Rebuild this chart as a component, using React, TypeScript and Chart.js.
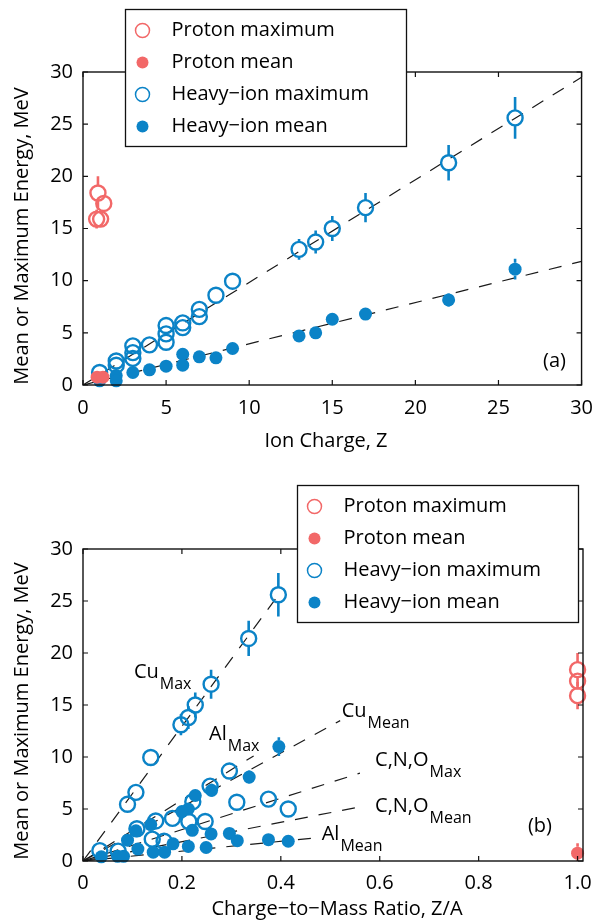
import React, { useEffect, useRef } from 'react';
import { Chart, registerables } from 'chart.js';

Chart.register(...registerables);

const FONT = "'Open Sans', sans-serif";
const BLUE = '#0b83c7';
const RED = '#f26868';
const INK = '#111111';

// ---------- Panel (a): energy vs ion charge Z ----------
// rows: [Z, energy (MeV), error (MeV)]
const zTicks = [0, 5, 10, 15, 20, 25, 30];
const energyTicks = [0, 5, 10, 15, 20, 25, 30];
const zProtonMax = [[0.9, 18.4, 1.6], [1.25, 17.4, 0], [0.82, 15.9, 0.9], [1.06, 15.9, 0]];
const zProtonMean = [[0.85, 0.75, 0], [1.2, 0.75, 0]];
const zHeavyMax = [
  [1, 1.2, 0], [2, 2.3, 0], [2, 1.9, 0], [3, 3.75, 0], [3, 3.1, 0], [3, 2.55, 0], [4, 3.85, 0],
  [5, 5.7, 0], [5, 4.9, 0], [5, 4.1, 0], [6, 5.95, 0], [6, 5.5, 0], [7, 7.25, 0], [7, 6.55, 0],
  [8, 8.6, 0], [9, 9.95, 0], [13, 13.0, 1.0], [14, 13.7, 1.1], [15, 15.0, 1.2], [17, 17.0, 1.4],
  [22, 21.3, 1.7], [26, 25.6, 2.0],
];
const zHeavyMean = [
  [1, 0.4, 0], [2, 0.9, 0], [2, 0.4, 0], [3, 1.2, 0], [4, 1.45, 0], [5, 1.8, 0], [6, 2.95, 0],
  [6, 1.9, 0], [7, 2.7, 0], [8, 2.6, 0], [9, 3.5, 0], [13, 4.7, 0], [14, 5.0, 0], [15, 6.3, 0],
  [17, 6.8, 0], [22, 8.15, 0.5], [26, 11.1, 1.0],
];
const zFitMax = [[0, 0], [30, 29.5]];
const zFitMean = [[0, 0], [30, 11.85]];

// ---------- Panel (b): energy vs charge-to-mass ratio Z/A ----------
const ratioTicks = [0, 0.2, 0.4, 0.6, 0.8, 1];
const rProtonMax = [[1, 18.4, 1.6], [1, 17.3, 0], [1, 15.9, 1.3]];
const rProtonMean = [[1, 0.75, 0.95]];
const rHeavyMax = [
  [0.395, 25.6, 2.1], [0.335, 21.4, 1.7], [0.259, 17.0, 1.4], [0.227, 15.0, 1.2], [0.213, 13.8, 1.1],
  [0.198, 13.1, 1.0], [0.137, 9.95, 0], [0.107, 6.6, 0], [0.09, 5.45, 0], [0.296, 8.65, 0],
  [0.257, 7.2, 0], [0.222, 5.7, 0], [0.311, 5.65, 0], [0.375, 5.95, 0], [0.415, 5.0, 0],
  [0.247, 3.8, 0], [0.214, 3.8, 0], [0.181, 4.1, 0], [0.147, 3.85, 0], [0.109, 3.1, 0],
  [0.14, 2.1, 0], [0.164, 1.9, 0], [0.034, 1.0, 0], [0.071, 0.95, 0],
];
const rHeavyMean = [
  [0.396, 11.0, 0.9], [0.336, 8.07, 0.5], [0.26, 6.8, 0.3], [0.227, 6.3, 0], [0.213, 5.0, 0],
  [0.2, 4.75, 0], [0.137, 3.5, 0], [0.107, 2.9, 0], [0.09, 2.0, 0], [0.221, 2.95, 0],
  [0.259, 2.6, 0], [0.296, 2.65, 0], [0.312, 1.95, 0], [0.375, 2.05, 0], [0.415, 1.9, 0],
  [0.249, 1.3, 0], [0.213, 1.4, 0], [0.182, 1.65, 0], [0.111, 1.15, 0], [0.142, 0.85, 0],
  [0.165, 0.85, 0], [0.037, 0.4, 0], [0.07, 0.45, 0], [0.082, 0.45, 0],
];
const fitCuMax = [[0, 0], [0.4, 25.9]];
const fitAlMax = [[0, 0], [0.345, 10.1]];
const fitCuMean = [[0, 0], [0.52, 13.5]];
const fitCNOMax = [[0, 0], [0.56, 8.45]];
const fitCNOMean = [[0, 0], [0.567, 5.27]];
const fitAlMean = [[0, 0], [0.465, 2.2]];
const fitLabels = [
  { main: 'Cu', sub: 'Max', x: 0.103, y: 17.57 },
  { main: 'Al', sub: 'Max', x: 0.2549, y: 11.6 },
  { main: 'Cu', sub: 'Mean', x: 0.523, y: 13.85 },
  { main: 'C,N,O', sub: 'Max', x: 0.5905, y: 9.1 },
  { main: 'C,N,O', sub: 'Mean', x: 0.5905, y: 4.68 },
  { main: 'Al', sub: 'Mean', x: 0.4827, y: 2.04 },
];

const legendItems = [
  { text: 'Proton maximum', color: RED, filled: false },
  { text: 'Proton mean', color: RED, filled: true },
  { text: 'Heavy\u2212ion maximum', color: BLUE, filled: false },
  { text: 'Heavy\u2212ion mean', color: BLUE, filled: true },
];

const Y_TITLE = 'Mean or Maximum Energy, MeV';

const toPts = (rows: number[][]) => rows.map((r) => ({ x: r[0], y: r[1] }));

const openSet = (label: string, rows: number[][], color: string) => ({
  type: 'scatter', label, data: toPts(rows), showLine: false, clip: false,
  pointStyle: 'circle', pointRadius: 7.5, pointBorderWidth: 2.4,
  pointBackgroundColor: 'rgba(0,0,0,0)', pointBorderColor: color,
  backgroundColor: 'rgba(0,0,0,0)', borderColor: color,
});
const filledSet = (label: string, rows: number[][], color: string) => ({
  type: 'scatter', label, data: toPts(rows), showLine: false, clip: false,
  pointStyle: 'circle', pointRadius: 6.5, pointBorderWidth: 0,
  pointBackgroundColor: color, pointBorderColor: color,
  backgroundColor: color, borderColor: color,
});
const fitSet = (label: string, rows: number[][]) => ({
  type: 'line', label, data: toPts(rows), borderColor: '#1a1a1a', borderWidth: 1.2,
  borderDash: [13, 11], pointRadius: 0, fill: false, tension: 0,
});

interface Spec {
  height: number; padTop: number; plotBottom: number; xMax: number;
  xTicks: number[]; yTicks: number[]; xLabelPad: number;
  datasets: any[];
  errors: { rows: number[][]; color: string; r: number }[];
  legend: { left: number; top: number };
  xTitle: { text: string; x: number; y: number };
  yTitle: { text: string; x: number; y: number };
  tag: { text: string; x: number; y: number };
  labels: { main: string; sub: string; x: number; y: number }[];
}

const specA: Spec = {
  height: 460, padTop: 72, plotBottom: 385, xMax: 30, xTicks: zTicks, yTicks: energyTicks, xLabelPad: 11,
  datasets: [
    filledSet('Proton mean', zProtonMean, RED),
    openSet('Proton maximum', zProtonMax, RED),
    filledSet('Heavy-ion mean', zHeavyMean, BLUE),
    openSet('Heavy-ion maximum', zHeavyMax, BLUE),
    fitSet('Max fit', zFitMax),
    fitSet('Mean fit', zFitMean),
  ],
  errors: [
    { rows: zProtonMax, color: RED, r: 7.5 },
    { rows: zHeavyMax, color: BLUE, r: 7.5 },
    { rows: zHeavyMean, color: BLUE, r: 6.5 },
  ],
  legend: { left: 125, top: 9 },
  xTitle: { text: 'Ion Charge, Z', x: 326, y: 441 },
  yTitle: { text: Y_TITLE, x: 22, y: 236 },
  tag: { text: '(a)', x: 28.37, y: 2.3 },
  labels: [],
};

const specB: Spec = {
  height: 461, padTop: 89, plotBottom: 401, xMax: 1.011, xTicks: ratioTicks, yTicks: energyTicks, xLabelPad: 10,
  datasets: [
    filledSet('Proton mean', rProtonMean, RED),
    openSet('Proton maximum', rProtonMax, RED),
    filledSet('Heavy-ion mean', rHeavyMean, BLUE),
    openSet('Heavy-ion maximum', rHeavyMax, BLUE),
    fitSet('Cu max', fitCuMax),
    fitSet('Al max', fitAlMax),
    fitSet('Cu mean', fitCuMean),
    fitSet('C,N,O max', fitCNOMax),
    fitSet('C,N,O mean', fitCNOMean),
    fitSet('Al mean', fitAlMean),
  ],
  errors: [
    { rows: rProtonMax, color: RED, r: 7.5 },
    { rows: rProtonMean, color: RED, r: 6.5 },
    { rows: rHeavyMax, color: BLUE, r: 7.5 },
    { rows: rHeavyMean, color: BLUE, r: 6.5 },
  ],
  legend: { left: 297, top: 25 },
  xTitle: { text: 'Charge\u2212to\u2212Mass Ratio, Z/A', x: 337, y: 449 },
  yTitle: { text: Y_TITLE, x: 22, y: 251 },
  tag: { text: '(b)', x: 0.924, y: 3.34 },
  labels: fitLabels,
};

function decor(spec: Spec) {
  return {
    id: 'decor',
    afterDatasetsDraw(chart: any) {
      const { ctx, chartArea: a, scales } = chart;
      const xs = scales.x, ys = scales.y;
      ctx.save();
      ctx.beginPath();
      ctx.rect(a.left - 40, a.top - 2, a.right - a.left + 80, a.bottom - a.top + 2);
      ctx.clip();
      ctx.lineCap = 'butt';
      for (const s of spec.errors) {
        ctx.strokeStyle = s.color;
        ctx.lineWidth = 2.6;
        for (const row of s.rows) {
          const e = row[2];
          if (!e) continue;
          const px = xs.getPixelForValue(row[0]);
          const py = ys.getPixelForValue(row[1]);
          const t = ys.getPixelForValue(row[1] + e);
          const b = ys.getPixelForValue(row[1] - e);
          ctx.beginPath();
          ctx.moveTo(px, t); ctx.lineTo(px, py - s.r);
          ctx.moveTo(px, py + s.r); ctx.lineTo(px, b);
          ctx.stroke();
        }
      }
      ctx.restore();
    },
    afterDraw(chart: any) {
      const { ctx, chartArea: a, scales } = chart;
      const xs = scales.x, ys = scales.y;
      ctx.save();
      // frame
      ctx.strokeStyle = INK;
      ctx.lineWidth = 1.4;
      ctx.strokeRect(a.left, a.top, a.right - a.left, a.bottom - a.top);
      // inward ticks on all four sides
      ctx.lineWidth = 1.2;
      ctx.beginPath();
      const TL = 5;
      for (const v of spec.xTicks) {
        const px = xs.getPixelForValue(v);
        ctx.moveTo(px, a.bottom); ctx.lineTo(px, a.bottom - TL);
        ctx.moveTo(px, a.top); ctx.lineTo(px, a.top + TL);
      }
      for (const v of spec.yTicks) {
        const py = ys.getPixelForValue(v);
        ctx.moveTo(a.left, py); ctx.lineTo(a.left + TL, py);
        ctx.moveTo(a.right, py); ctx.lineTo(a.right - TL, py);
      }
      ctx.stroke();

      ctx.fillStyle = '#000';
      // fit labels with subscripts
      for (const l of spec.labels) {
        const px = xs.getPixelForValue(l.x);
        const py = ys.getPixelForValue(l.y);
        ctx.font = `20px ${FONT}`;
        ctx.textAlign = 'left';
        ctx.textBaseline = 'alphabetic';
        ctx.fillText(l.main, px, py);
        const w = ctx.measureText(l.main).width;
        ctx.font = `16px ${FONT}`;
        ctx.fillText(l.sub, px + w + 1, py + 11);
      }
      // panel tag
      ctx.font = `20px ${FONT}`;
      ctx.textAlign = 'center';
      ctx.textBaseline = 'middle';
      ctx.fillText(spec.tag.text, xs.getPixelForValue(spec.tag.x), ys.getPixelForValue(spec.tag.y));
      // axis titles
      ctx.fillText(spec.xTitle.text, spec.xTitle.x, spec.xTitle.y);
      ctx.save();
      ctx.translate(spec.yTitle.x, spec.yTitle.y);
      ctx.rotate(-Math.PI / 2);
      ctx.fillText(spec.yTitle.text, 0, 0);
      ctx.restore();

      // legend
      const L = spec.legend;
      const W = 281, H = 137;
      ctx.fillStyle = '#ffffff';
      ctx.fillRect(L.left, L.top, W, H);
      ctx.strokeStyle = INK;
      ctx.lineWidth = 1.3;
      ctx.strokeRect(L.left + 0.5, L.top + 0.5, W, H);
      legendItems.forEach((it, i) => {
        const cy = L.top + 21.5 + 32 * i;
        const cx = L.left + 17.5;
        ctx.beginPath();
        if (it.filled) {
          ctx.arc(cx, cy, 6, 0, Math.PI * 2);
          ctx.fillStyle = it.color;
          ctx.fill();
        } else {
          ctx.arc(cx, cy, 7, 0, Math.PI * 2);
          ctx.strokeStyle = it.color;
          ctx.lineWidth = 1.5;
          ctx.stroke();
        }
        ctx.fillStyle = '#000';
        ctx.font = `20px ${FONT}`;
        ctx.textAlign = 'left';
        ctx.textBaseline = 'middle';
        ctx.fillText(it.text, L.left + 46.5, cy);
      });
      ctx.restore();
    },
  };
}

function buildConfig(spec: Spec): any {
  const tickFont = { family: FONT, size: 20 };
  return {
    type: 'scatter',
    data: { datasets: spec.datasets },
    options: {
      animation: false,
      responsive: false,
      devicePixelRatio: 1,
      events: [],
      layout: { padding: { top: spec.padTop, right: 21, left: 0, bottom: 0 } },
      plugins: { legend: { display: false }, tooltip: { enabled: false } },
      scales: {
        x: {
          type: 'linear', min: 0, max: spec.xMax,
          grid: { display: false, drawTicks: false },
          border: { display: false },
          afterBuildTicks: (s: any) => { s.ticks = spec.xTicks.map((v) => ({ value: v })); },
          afterFit: (s: any) => { s.height = spec.height - spec.plotBottom; },
          ticks: { autoSkip: false, maxRotation: 0, minRotation: 0, padding: spec.xLabelPad, color: '#000', font: tickFont },
        },
        y: {
          type: 'linear', min: 0, max: 30,
          grid: { display: false, drawTicks: false },
          border: { display: false },
          afterBuildTicks: (s: any) => { s.ticks = spec.yTicks.map((v) => ({ value: v })); },
          afterFit: (s: any) => { s.width = 83; },
          ticks: { autoSkip: false, padding: 10, color: '#000', font: tickFont },
        },
      },
    },
    plugins: [decor(spec)],
  };
}

function Panel({ spec }: { spec: Spec }) {
  const ref = useRef<HTMLCanvasElement>(null);
  useEffect(() => {
    const canvas = ref.current;
    if (!canvas) return;
    const chart = new Chart(canvas, buildConfig(spec));
    return () => chart.destroy();
  }, [spec]);
  return (
    <canvas
      ref={ref}
      width={604}
      height={spec.height}
      style={{ display: 'block', width: 604, height: spec.height }}
    />
  );
}

export default function App() {
  return (
    <div style={{ position: 'absolute', left: 0, top: 0, width: 604, height: 921, background: '#fff' }}>
      <Panel spec={specA} />
      <Panel spec={specB} />
    </div>
  );
}
